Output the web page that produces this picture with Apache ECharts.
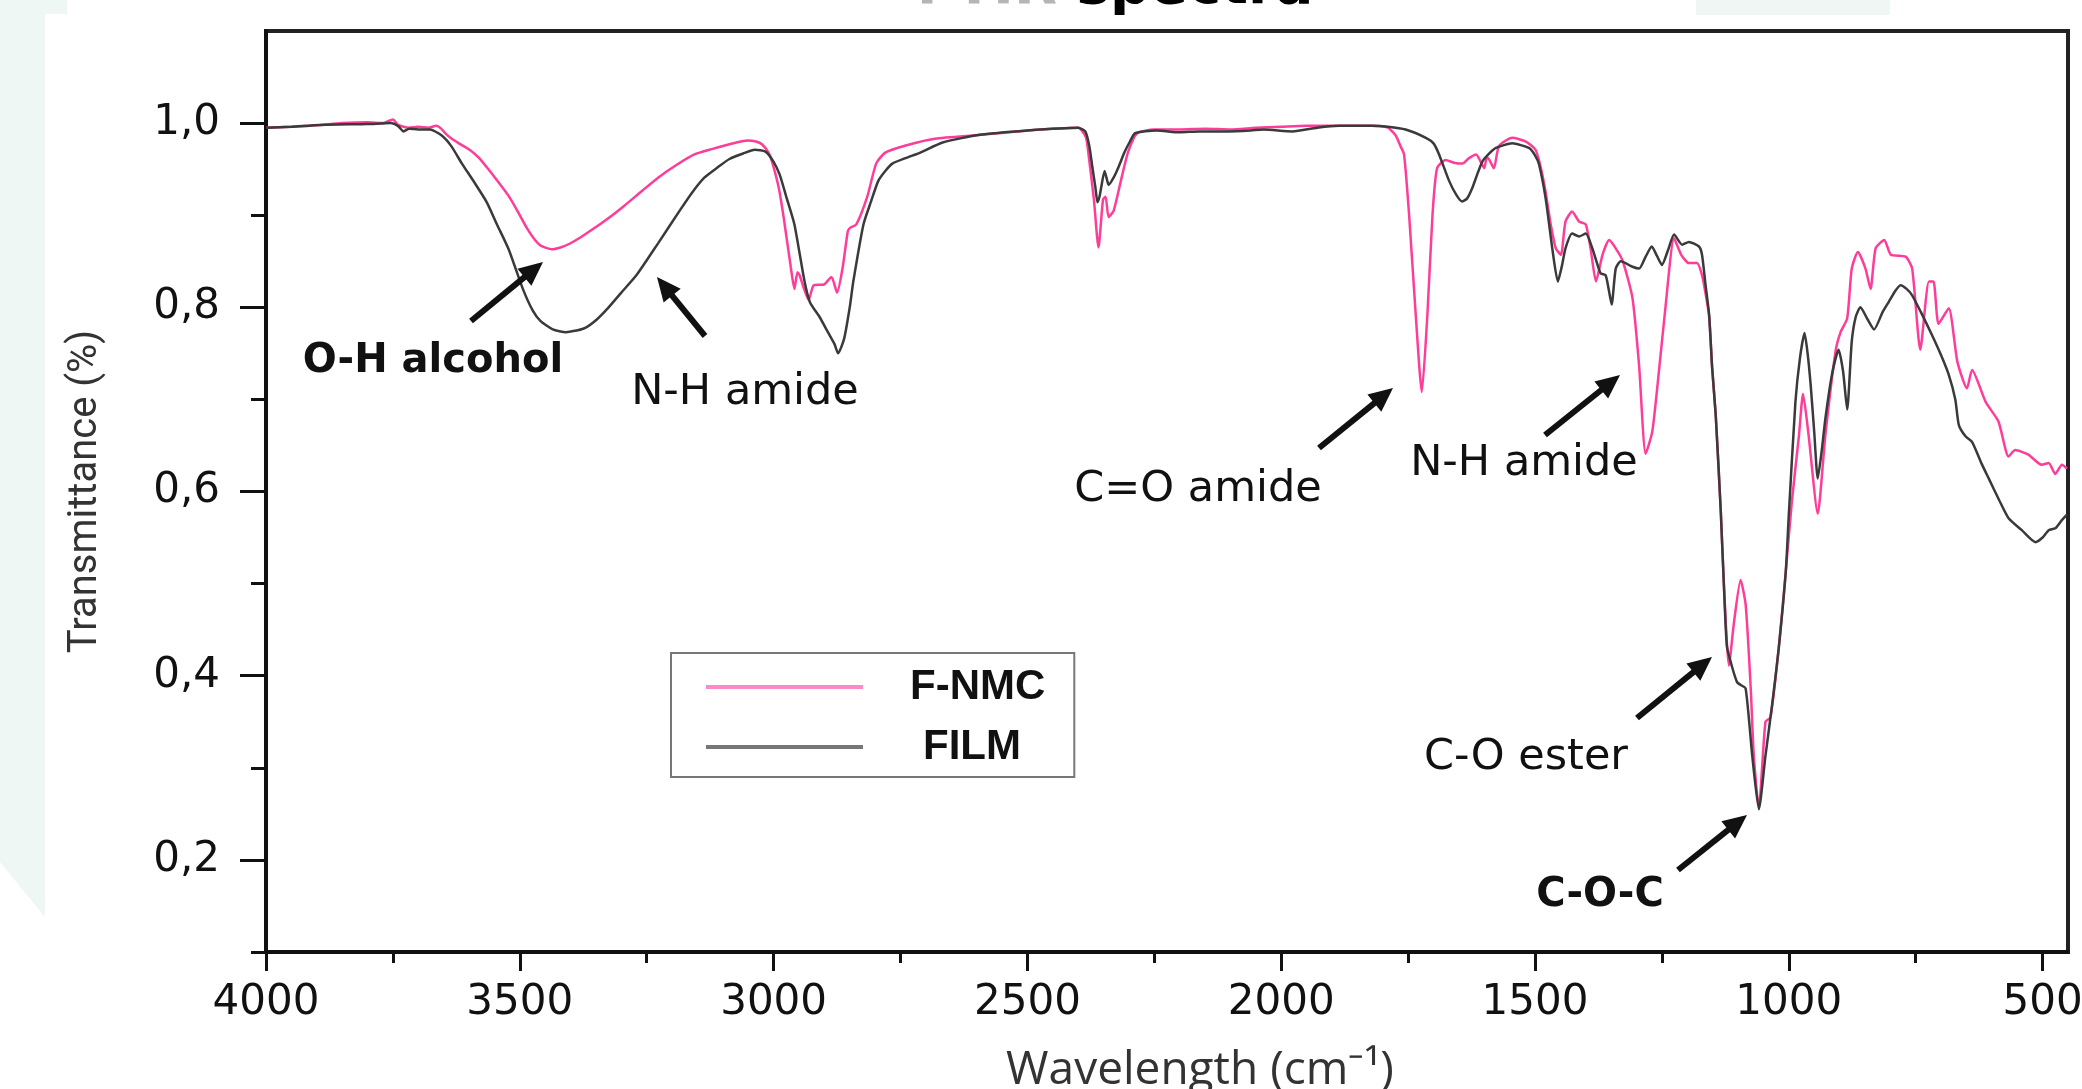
<!DOCTYPE html>
<html>
<head>
<meta charset="utf-8">
<script src="https://cdn.jsdelivr.net/npm/echarts@6/dist/echarts.min.js"></script>
<style>
html,body{margin:0;padding:0;background:#fff;}
#chart{width:2082px;height:1089px;}
</style>
</head>
<body>
<div id="chart"></div>
<script>
// ---------------- DATA ----------------
const seriesNames = ['F-NMC', 'FILM'];

const fnmcWave = [4000,3950,3894,3850,3800,3770,3750,3740,3718,3700,3680,3665,3655,3645,3634,3620,3599,3580,3565,3545,3522,3505,3486,3470,3459,3437,3420,3402,3380,3353,3325,3297,3260,3227,3190,3156,3120,3087,3051,3035,3023,3010,3002,2990,2980,2966,2959,2953,2949,2940,2931,2921,2900,2886,2875,2864,2854,2850,2837,2815,2798,2780,2738,2682,2597,2500,2400,2385,2380,2369,2360,2351,2346,2340,2330,2316,2302,2284,2250,2200,2150,2100,2050,2000,1950,1886,1821,1790,1775,1765,1758,1748,1735,1723,1712,1702,1693,1676,1660,1643,1630,1616,1607,1600,1595,1590,1581,1571,1545,1518,1499,1490,1479,1469,1459,1449,1440,1427,1413,1400,1390,1380,1367,1354,1341,1327,1308,1295,1282,1269,1256,1243,1226,1212,1197,1181,1171,1164,1157,1151,1144,1134,1128,1118,1108,1095,1085,1075,1069,1059,1046,1036,1020,1006,994,980,972,961,943,928,908,898,885,876,864,849,839,829,812,799,770,757,741,724,715,705,685,668,649,639,612,587,567,554,528,502,488,475,462,452];
const fnmcT = [0.995,0.996,0.998,1.000,1.001,1.000,1.004,0.998,0.995,0.996,0.995,0.997,0.994,0.988,0.983,0.978,0.971,0.962,0.952,0.938,0.921,0.905,0.886,0.873,0.867,0.863,0.865,0.869,0.876,0.886,0.897,0.909,0.926,0.941,0.955,0.966,0.972,0.977,0.981,0.980,0.977,0.968,0.956,0.930,0.897,0.843,0.820,0.838,0.835,0.820,0.808,0.824,0.825,0.833,0.816,0.843,0.882,0.886,0.890,0.921,0.956,0.968,0.976,0.983,0.987,0.992,0.995,0.985,0.968,0.917,0.865,0.917,0.920,0.898,0.905,0.937,0.968,0.989,0.993,0.993,0.994,0.993,0.995,0.996,0.997,0.997,0.997,0.995,0.987,0.975,0.966,0.900,0.792,0.708,0.792,0.900,0.951,0.960,0.957,0.956,0.962,0.966,0.958,0.951,0.963,0.960,0.951,0.975,0.984,0.980,0.971,0.955,0.925,0.890,0.864,0.857,0.893,0.904,0.893,0.890,0.862,0.828,0.857,0.873,0.864,0.850,0.810,0.737,0.641,0.665,0.730,0.800,0.875,0.857,0.848,0.848,0.835,0.815,0.790,0.734,0.683,0.578,0.500,0.411,0.458,0.504,0.477,0.386,0.313,0.257,0.350,0.355,0.429,0.513,0.589,0.661,0.706,0.661,0.576,0.661,0.752,0.773,0.788,0.842,0.860,0.842,0.820,0.864,0.873,0.857,0.855,0.842,0.754,0.828,0.828,0.782,0.799,0.741,0.712,0.732,0.697,0.676,0.638,0.645,0.640,0.629,0.631,0.619,0.629,0.625];

const filmWave = [4000,3950,3894,3800,3754,3740,3729,3718,3700,3677,3655,3635,3614,3590,3565,3545,3522,3494,3475,3459,3435,3409,3374,3350,3325,3300,3270,3227,3185,3160,3136,3110,3087,3060,3037,3016,3000,2988,2975,2959,2939,2928,2910,2893,2880,2873,2861,2850,2843,2823,2808,2794,2780,2766,2740,2711,2667,2597,2500,2400,2386,2378,2372,2366,2362,2358,2355,2348,2343,2340,2330,2320,2309,2298,2288,2246,2200,2161,2105,2060,2035,1978,1929,1886,1821,1790,1755,1715,1700,1689,1669,1655,1644,1634,1624,1614,1604,1590,1577,1545,1512,1500,1492,1479,1466,1455,1447,1440,1427,1413,1400,1387,1371,1361,1355,1349,1341,1331,1308,1295,1282,1270,1260,1250,1238,1226,1210,1197,1177,1171,1164,1157,1151,1144,1134,1128,1122,1112,1102,1095,1085,1072,1059,1046,1033,1020,1006,1000,987,978,969,963,957,950,943,935,928,915,902,893,885,876,868,859,845,832,815,803,790,780,768,757,740,718,700,685,672,665,652,639,620,606,585,567,541,514,500,488,475,462,452];
const filmT = [0.995,0.996,0.998,0.999,1.000,0.997,0.991,0.994,0.993,0.993,0.987,0.975,0.956,0.936,0.914,0.890,0.863,0.820,0.797,0.785,0.776,0.773,0.777,0.786,0.800,0.816,0.835,0.870,0.905,0.925,0.941,0.952,0.961,0.967,0.971,0.969,0.958,0.944,0.920,0.890,0.828,0.805,0.790,0.773,0.760,0.750,0.766,0.800,0.828,0.890,0.915,0.937,0.948,0.956,0.962,0.968,0.979,0.987,0.992,0.995,0.991,0.975,0.952,0.930,0.914,0.920,0.929,0.948,0.938,0.933,0.941,0.953,0.968,0.980,0.989,0.992,0.990,0.991,0.991,0.992,0.993,0.991,0.995,0.997,0.997,0.996,0.993,0.984,0.978,0.966,0.937,0.922,0.915,0.918,0.929,0.944,0.958,0.967,0.973,0.978,0.973,0.965,0.955,0.918,0.864,0.828,0.845,0.864,0.880,0.877,0.880,0.864,0.837,0.835,0.820,0.803,0.842,0.850,0.844,0.842,0.855,0.866,0.856,0.846,0.862,0.879,0.868,0.871,0.866,0.857,0.824,0.792,0.734,0.683,0.578,0.500,0.432,0.410,0.393,0.390,0.386,0.313,0.255,0.313,0.368,0.429,0.513,0.575,0.697,0.745,0.772,0.750,0.716,0.665,0.614,0.645,0.679,0.727,0.754,0.730,0.689,0.763,0.790,0.800,0.787,0.776,0.795,0.806,0.818,0.824,0.820,0.813,0.795,0.770,0.748,0.727,0.700,0.672,0.660,0.654,0.630,0.614,0.590,0.571,0.558,0.545,0.550,0.558,0.560,0.569,0.575];

const xMajorTicks = [4000,3500,3000,2500,2000,1500,1000,500];
const xMinorTicks = [3750,3250,2750,2250,1750,1250,750];
const yMajorTicks = [0.2,0.4,0.6,0.8,1.0];
const yMinorTicks = [0.1,0.3,0.5,0.7,0.9];

const annotationTexts = ['O-H alcohol','N-H amide','C=O amide','N-H amide','C-O ester','C-O-C'];
const titleParts = ['FTIR ', 'spectra'];
const xAxisTitle = 'Wavelength (cm\u207B\u00B9)';
const yAxisTitle = 'Transmittance (%)';

// ---------------- LAYOUT / STYLE ----------------
const PINK = '#ff3d98';
const DARK = '#3a3a3a';
const annLayout = [
  {label:[433,362], bold:true,  size:40, tail:[471,321], tip:[543,262]},
  {label:[745,393], bold:false, size:43, tail:[705,336], tip:[657,277]},
  {label:[1198,490],bold:false, size:43, tail:[1319,448],tip:[1393,388]},
  {label:[1524,464],bold:false, size:43, tail:[1545,435],tip:[1620,375]},
  {label:[1526,758],bold:false, size:43, tail:[1637,718],tip:[1712,657]},
  {label:[1600,896],bold:true,  size:40, tail:[1678,870],tip:[1747,815]}
];

function arrowGraphics(tail, tip) {
  const dx = tip[0]-tail[0], dy = tip[1]-tail[1];
  const len = Math.sqrt(dx*dx+dy*dy);
  const ux = dx/len, uy = dy/len;
  const hl = 24, hw = 11;
  const bx = tip[0]-ux*hl, by = tip[1]-uy*hl;
  const px = -uy, py = ux;
  return [
    {type:'line', z:50, shape:{x1:tail[0], y1:tail[1], x2:bx+ux*2, y2:by+uy*2},
     style:{stroke:'#111', lineWidth:6, lineCap:'butt'}},
    {type:'polygon', z:50, shape:{points:[[tip[0],tip[1]],[bx+px*hw,by+py*hw],[bx-px*hw,by-py*hw]]},
     style:{fill:'#111'}}
  ];
}

const graphics = [];
// slide background decorations
graphics.push({type:'polygon', z:-10, shape:{points:[[0,0],[67,0],[67,14],[45,14],[45,917],[0,862]]}, style:{fill:'#eef7f4'}});
graphics.push({type:'rect', z:-10, shape:{x:1696,y:0,width:194,height:15}, style:{fill:'#eef7f4'}});
// partially visible title
graphics.push({type:'text', z:60, style:{
  text:'{g|'+titleParts[0]+'}{b|'+titleParts[1]+'}', x:1115, y:-12, align:'center', verticalAlign:'middle',
  rich:{g:{fontFamily:'DejaVu Sans', fontWeight:'bold', fontSize:56, fill:'#b5b5b5'},
        b:{fontFamily:'DejaVu Sans', fontWeight:'bold', fontSize:56, fill:'#000'}}
}});
annLayout.forEach((a,i)=>{
  graphics.push({type:'text', z:60, style:{
    text: annotationTexts[i], x:a.label[0], y:a.label[1], align:'center', verticalAlign:'middle',
    textAlign:'center', textVerticalAlign:'middle',
    fontFamily:'DejaVu Sans', fontWeight: a.bold ? 'bold' : 'normal', fontSize:a.size, fill:'#111'
  }});
  arrowGraphics(a.tail, a.tip).forEach(g=>graphics.push(g));
});

const chart = echarts.init(document.getElementById('chart'), null, {renderer:'canvas'});
const fmtY = v => v.toFixed(1).replace('.', ',');
const fmtX = v => String(Math.round(v));

chart.setOption({
  animation:false,
  backgroundColor:'#fff',
  grid:{left:266, right:14, top:31, bottom:137, containLabel:false, outerBoundsMode:'none',
        show:true, borderColor:'#222', borderWidth:4, backgroundColor:'transparent'},
  xAxis:[
    {type:'value', inverse:true, min:450, max:4000, position:'bottom',
     axisLine:{show:true, onZero:false, lineStyle:{color:'#111', width:4}},
     axisTick:{show:true, inside:false, length:19, customValues:xMajorTicks, lineStyle:{color:'#111', width:3}},
     axisLabel:{show:true, customValues:xMajorTicks, formatter:fmtX, margin:30, fontFamily:'DejaVu Sans', fontSize:42, color:'#111', hideOverlap:false},
     splitLine:{show:false},
     name:xAxisTitle, nameLocation:'middle', nameGap:96,
     nameTextStyle:{fontFamily:'Open Sans', fontSize:46, color:'#333', padding:[0,0,0,66]}
    },
    {type:'value', inverse:true, min:450, max:4000, position:'bottom',
     axisLine:{show:false, onZero:false},
     axisTick:{show:true, inside:false, length:11, customValues:xMinorTicks, lineStyle:{color:'#111', width:3}},
     axisLabel:{show:false}, splitLine:{show:false}}
  ],
  yAxis:[
    {type:'value', min:0.1, max:1.1, position:'left',
     axisLine:{show:true, onZero:false, lineStyle:{color:'#111', width:4}},
     axisTick:{show:true, inside:false, length:26, customValues:yMajorTicks, lineStyle:{color:'#111', width:3}},
     axisLabel:{show:true, customValues:yMajorTicks, formatter:fmtY, margin:46, fontFamily:'DejaVu Sans', fontSize:42, color:'#111'},
     splitLine:{show:false},
     name:yAxisTitle, nameLocation:'middle', nameGap:160, nameRotate:90,
     nameTextStyle:{fontFamily:'Roboto', fontSize:40, color:'#333'}
    },
    {type:'value', min:0.1, max:1.1, position:'left',
     axisLine:{show:false, onZero:false},
     axisTick:{show:true, inside:false, length:15, customValues:yMinorTicks, lineStyle:{color:'#111', width:3}},
     axisLabel:{show:false}, splitLine:{show:false}}
  ],
  legend:{
    orient:'vertical', left:671, top:653, padding:[13,29,9,35],
    itemWidth:157, itemHeight:4, itemGap:18, icon:'rect',
    backgroundColor:'#fff', borderColor:'#777', borderWidth:2,
    textStyle:{fontFamily:'Liberation Sans', fontWeight:'bold', fontSize:42, color:'#111', padding:[0,0,0,42]},
    data:[
      {name:seriesNames[0], itemStyle:{color:'#ff88c6'}},
      {name:seriesNames[1], itemStyle:{color:'#777'}, textStyle:{padding:[0,0,0,55]}}
    ]
  },
  graphic:graphics,
  series:[
    {name:seriesNames[0], type:'line', xAxisIndex:0, yAxisIndex:0, symbol:'none', showSymbol:false, smooth:0.2,
     data:fnmcWave.map((w,i)=>[w, fnmcT[i]]), lineStyle:{color:PINK, width:2.5}, itemStyle:{color:PINK}, z:3},
    {name:seriesNames[1], type:'line', xAxisIndex:0, yAxisIndex:0, symbol:'none', showSymbol:false, smooth:0.2,
     data:filmWave.map((w,i)=>[w, filmT[i]]), lineStyle:{color:DARK, width:2.5}, itemStyle:{color:DARK}, z:4}
  ]
});
</script>
</body>
</html>
